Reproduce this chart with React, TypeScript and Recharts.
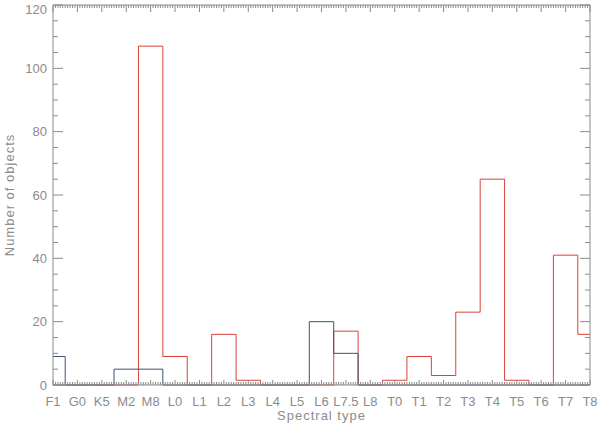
import React from 'react';
import { LineChart, Line, XAxis, YAxis } from 'recharts';

const categories = ['F1', 'G0', 'K5', 'M2', 'M8', 'L0', 'L1', 'L2', 'L3', 'L4', 'L5', 'L6', 'L7.5', 'L8', 'T0', 'T1', 'T2', 'T3', 'T4', 'T5', 'T6', 'T7', 'T8'];
const redCounts = [0, 0, 0, 0, 107, 9, 0, 16, 1.5, 0, 0, 0, 17, 0, 1.5, 9, 3, 23, 65, 1.5, 0, 41, 16];
const blueCounts = [9, 0, 0, 5, 5, 0, 0, 0, 0, 0, 0, 20, 10, 0, 0, 0, 0, 0, 0, 0, 0, 0, 0];
const yMajorTicks = [0, 20, 40, 60, 80, 100, 120];

const data = categories.map((c, i) => ({ x: i, red: redCounts[i], blue: blueCounts[i] }));
const xMajor = categories.map((_, i) => i);
const xMinor: number[] = [];
for (let i = 0; i <= (categories.length - 1) * 10; i++) xMinor.push(i / 10);
const yMinor: number[] = [];
for (let v = 0; v <= 120; v += 5) yMinor.push(v);

const AXIS = '#8a8a8a';
const TEXT = '#8c8c8c';
const FONT = 'Liberation Sans, Arial, sans-serif';
const tickStyle = { fill: TEXT, fontSize: 13, fontFamily: FONT };

const isXMajor = (v: number) => Math.abs(v - Math.round(v)) < 1e-6;
const isYMajor = (v: number) => Math.abs(v % 20) < 1e-6;

function makeTick(side: 'bottom' | 'top' | 'left' | 'right') {
  return (props: any) => {
    const { x, y, payload } = props;
    const v = payload.value as number;
    let len: number;
    if (side === 'bottom' || side === 'top') len = isXMajor(v) ? (side === 'top' ? 7 : 5) : 3;
    else len = isYMajor(v) ? 10 : 5;
    let x2 = x, y2 = y;
    if (side === 'bottom') y2 = y - len;
    if (side === 'top') y2 = y + len;
    if (side === 'left') x2 = x + len;
    if (side === 'right') x2 = x - len;
    return <line x1={x} y1={y} x2={x2} y2={y2} stroke={AXIS} strokeWidth={1} />;
  };
}

const YLabelTick = (props: any) => {
  const { x, y, payload } = props;
  const ty = Math.max(y, 9);
  return (
    <text x={x} y={ty} dy="0.36em" textAnchor="end" fill={TEXT} fontSize={13} fontFamily={FONT}>
      {payload.value}
    </text>
  );
};

export default function App() {
  const xDom: [number, number] = [0, categories.length - 1];
  const yDom: [number, number] = [0, 120];
  return (
    <div style={{ position: 'absolute', left: 0, top: 0, background: '#fff' }}>
      <LineChart width={600} height={427} data={data} margin={{ top: 5, right: 10, bottom: 0, left: 0 }}>
        <XAxis
          xAxisId="main"
          dataKey="x"
          type="number"
          domain={xDom}
          ticks={xMajor}
          interval={0}
          height={42}
          tickSize={0}
          tickMargin={12}
          tickLine={false}
          tickFormatter={(v: number) => categories[v]}
          tick={tickStyle}
          axisLine={{ stroke: AXIS }}
          label={{ value: 'Spectral type', position: 'insideBottom', offset: 7, style: { fill: TEXT, fontSize: 13, fontFamily: FONT, letterSpacing: 1 } }}
        />
        <XAxis xAxisId="bTicks" type="number" domain={xDom} ticks={xMinor} interval={0} mirror height={1} tickSize={0} tickMargin={0} tickLine={false} tick={makeTick('bottom')} axisLine={false} allowDataOverflow />
        <XAxis xAxisId="tTicks" orientation="top" type="number" domain={xDom} ticks={xMinor} interval={0} mirror height={1} tickSize={0} tickMargin={0} tickLine={false} tick={makeTick('top')} axisLine={{ stroke: AXIS }} allowDataOverflow />

        <YAxis
          yAxisId="main"
          type="number"
          domain={yDom}
          ticks={yMajorTicks}
          interval={0}
          width={53}
          tickSize={0}
          tickMargin={6}
          tickLine={false}
          tick={<YLabelTick />}
          axisLine={{ stroke: AXIS }}
          label={{ value: 'Number of objects', angle: -90, position: 'insideLeft', offset: 9, style: { textAnchor: 'middle', fill: TEXT, fontSize: 13, fontFamily: FONT, letterSpacing: 1 } }}
        />
        <YAxis yAxisId="lTicks" type="number" domain={yDom} ticks={yMinor} interval={0} mirror width={1} tickSize={0} tickMargin={0} tickLine={false} tick={makeTick('left')} axisLine={false} allowDataOverflow />
        <YAxis yAxisId="rTicks" orientation="right" type="number" domain={yDom} ticks={yMinor} interval={0} mirror width={1} tickSize={0} tickMargin={0} tickLine={false} tick={makeTick('right')} axisLine={{ stroke: AXIS }} allowDataOverflow />

        <Line xAxisId="main" yAxisId="main" type="step" dataKey="red" stroke="#dc4238" strokeWidth={1} dot={false} isAnimationActive={false} />
        <Line xAxisId="main" yAxisId="main" type="step" dataKey="blue" stroke="#3a5472" strokeWidth={1} dot={false} isAnimationActive={false} />
      </LineChart>
    </div>
  );
}
